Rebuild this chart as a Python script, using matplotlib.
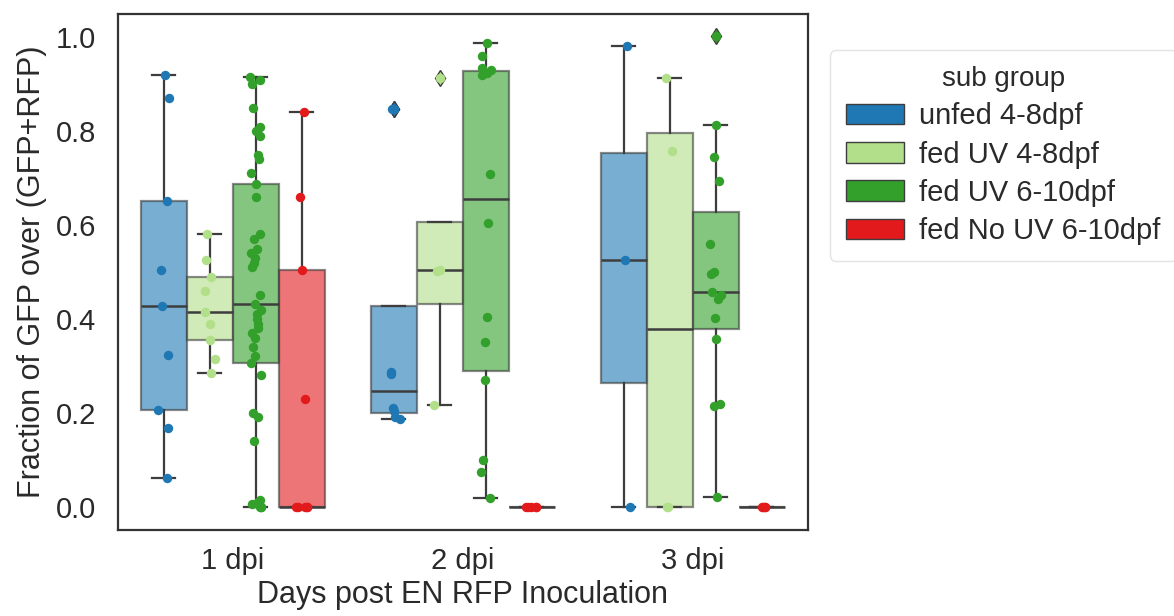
import numpy as np
import matplotlib
matplotlib.use("Agg")
import matplotlib.pyplot as plt
from matplotlib.patches import Patch

plt.rcParams['font.family'] = ['Liberation Sans', 'DejaVu Sans']

days = ["1 dpi", "2 dpi", "3 dpi"]
sub_groups = ["unfed 4-8dpf", "fed UV 4-8dpf", "fed UV 6-10dpf", "fed No UV 6-10dpf"]
palette = ["#1f78b4", "#b2df8a", "#33a02c", "#e31a1c"]

# values: values[day][sub_group]
unfed_48 = [
    [0.92, 0.87, 0.652, 0.504, 0.428, 0.322, 0.205, 0.167, 0.06],
    [0.847, 0.847, 0.287, 0.282, 0.21, 0.203, 0.19, 0.186],
    [0.982, 0.526, 0.0],
]
fed_uv_48 = [
    [0.58, 0.525, 0.489, 0.46, 0.414, 0.39, 0.354, 0.315, 0.285],
    [0.914, 0.505, 0.503, 0.216],
    [0.914, 0.758, 0.0, 0.0],
]
fed_uv_610 = [
    [0.916, 0.91, 0.90, 0.85, 0.81, 0.80, 0.79, 0.75, 0.74, 0.71, 0.687,
     0.66, 0.58, 0.57, 0.55, 0.54, 0.53, 0.52, 0.51, 0.45, 0.432,
     0.42, 0.41, 0.40, 0.39, 0.38, 0.37, 0.36, 0.34, 0.32, 0.306,
     0.28, 0.20, 0.19, 0.14, 0.015, 0.01, 0.005, 0.0, 0.0, 0.0],
    [0.988, 0.96, 0.935, 0.93, 0.925, 0.92, 0.709, 0.604, 0.404, 0.35,
     0.27, 0.099, 0.074, 0.019],
    [1.003, 0.813, 0.745, 0.694, 0.56, 0.501, 0.495, 0.457, 0.45, 0.443,
     0.401, 0.357, 0.218, 0.215, 0.021],
]
fed_nouv_610 = [
    [0.84, 0.66, 0.505, 0.23, 0.0, 0.0, 0.0, 0.0, 0.0],
    [0.0, 0.0, 0.0, 0.0, 0.0],
    [0.0, 0.0, 0.0, 0.0],
]
series = [unfed_48, fed_uv_48, fed_uv_610, fed_nouv_610]

fig = plt.figure(figsize=(11.74, 6.16), dpi=100)
ax = fig.add_axes([0.1005, 0.1396, 0.5877, 0.8377])

line_col = "#3d3d3d"
width = 0.2
offsets = [-0.3, -0.1, 0.1, 0.3]
rng = np.random.default_rng(7)

for h, (vals, col) in enumerate(zip(series, palette)):
    for d in range(len(days)):
        pos = d + offsets[h]
        ax.boxplot([vals[d]], positions=[pos], widths=width,
                   patch_artist=True, manage_ticks=False,
                   boxprops=dict(facecolor=col, edgecolor=line_col, linewidth=1.6, alpha=0.6),
                   whiskerprops=dict(color=line_col, linewidth=1.6),
                   capprops=dict(color=line_col, linewidth=1.6),
                   medianprops=dict(color=line_col, linewidth=1.8),
                   flierprops=dict(marker="d", markerfacecolor=col,
                                   markeredgecolor=line_col, markersize=8),
                   zorder=2)
        y = np.asarray(vals[d])
        x = pos + rng.uniform(-0.025, 0.025, size=len(y))
        ax.scatter(x, y, s=46, color=col, zorder=3, linewidths=0)

ax.set_xlim(-0.5, 2.5)
ax.set_ylim(-0.05, 1.05)
ax.set_xticks(range(len(days)))
ax.set_xticklabels(days)
ax.set_yticks([0.0, 0.2, 0.4, 0.6, 0.8, 1.0])
ax.set_yticklabels(["0.0", "0.2", "0.4", "0.6", "0.8", "1.0"])
ax.tick_params(axis="both", length=0, labelsize=21, colors="#2a2a2a")
ax.tick_params(axis="y", pad=16)
ax.tick_params(axis="x", pad=12)
for sp in ax.spines.values():
    sp.set_color("#333333")
    sp.set_linewidth(1.6)

ax.set_xlabel("Days post EN RFP Inoculation", fontsize=22, color="#2a2a2a", labelpad=4)
ax.set_ylabel("Fraction of GFP over (GFP+RFP)", fontsize=22, color="#2a2a2a", labelpad=6)

handles = [Patch(facecolor=c, edgecolor=line_col, linewidth=1.0, label=l)
           for c, l in zip(palette, sub_groups)]
leg = ax.legend(handles=handles, title="sub group", loc="upper left",
                bbox_to_anchor=(1.032, 0.93), borderaxespad=0, fontsize=21,
                title_fontsize=20, frameon=True, handlelength=2.0,
                labelspacing=0.35, borderpad=0.55, handletextpad=0.5)
leg.get_frame().set_edgecolor("#dddddd")
for t in leg.get_texts():
    t.set_color("#2a2a2a")
leg.get_title().set_color("#2a2a2a")

fig.savefig("out.png", dpi=100, facecolor="white")
